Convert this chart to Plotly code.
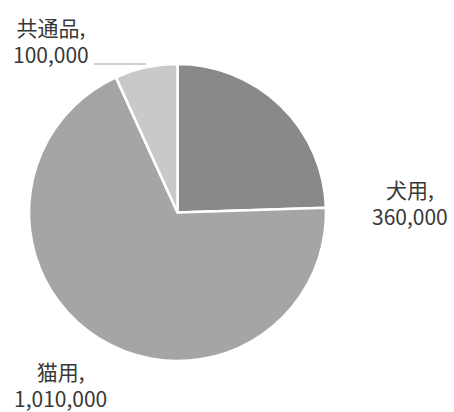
import plotly.graph_objects as go

labels = ["犬用", "猫用", "共通品"]
values = [360000, 1010000, 100000]
colors = ["#898989", "#a5a5a5", "#c9c9c9"]

W, H = 454, 412
cx, cy, r = 177.5, 212.5, 148.5

fig = go.Figure(go.Pie(
    labels=labels,
    values=values,
    sort=False,
    direction="clockwise",
    rotation=0,
    marker=dict(colors=colors, line=dict(color="white", width=2.5)),
    textinfo="none",
    hoverinfo="label+value",
    domain=dict(x=[(cx - r) / W, (cx + r) / W], y=[(H - cy - r) / H, (H - cy + r) / H]),
    showlegend=False,
))

# label anchor positions (pixels from top-left)
label_pos = [(410, 202), (60, 384), (51, 41)]
annotations = []
for lab, val, (px, py) in zip(labels, values, label_pos):
    annotations.append(dict(
        x=px / W, y=1 - py / H, xref="paper", yref="paper",
        text=f"{lab},<br>{val:,}", showarrow=False, align="center",
        xanchor="center", yanchor="middle",
        font=dict(family="Noto Sans CJK JP", size=21, color="#383838"),
    ))

fig.update_layout(
    width=W, height=H,
    margin=dict(l=0, r=0, t=0, b=0),
    paper_bgcolor="white", plot_bgcolor="white",
    annotations=annotations,
    shapes=[dict(type="line", xref="paper", yref="paper",
                 x0=94 / W, x1=146 / W, y0=1 - 64 / H, y1=1 - 64 / H,
                 line=dict(color="#bfbfbf", width=1.5))],
)

fig.write_html(
    "out.html",
    config={"displayModeBar": False},
    post_script="document.body.style.margin='0';document.body.style.overflow='hidden';",
)
